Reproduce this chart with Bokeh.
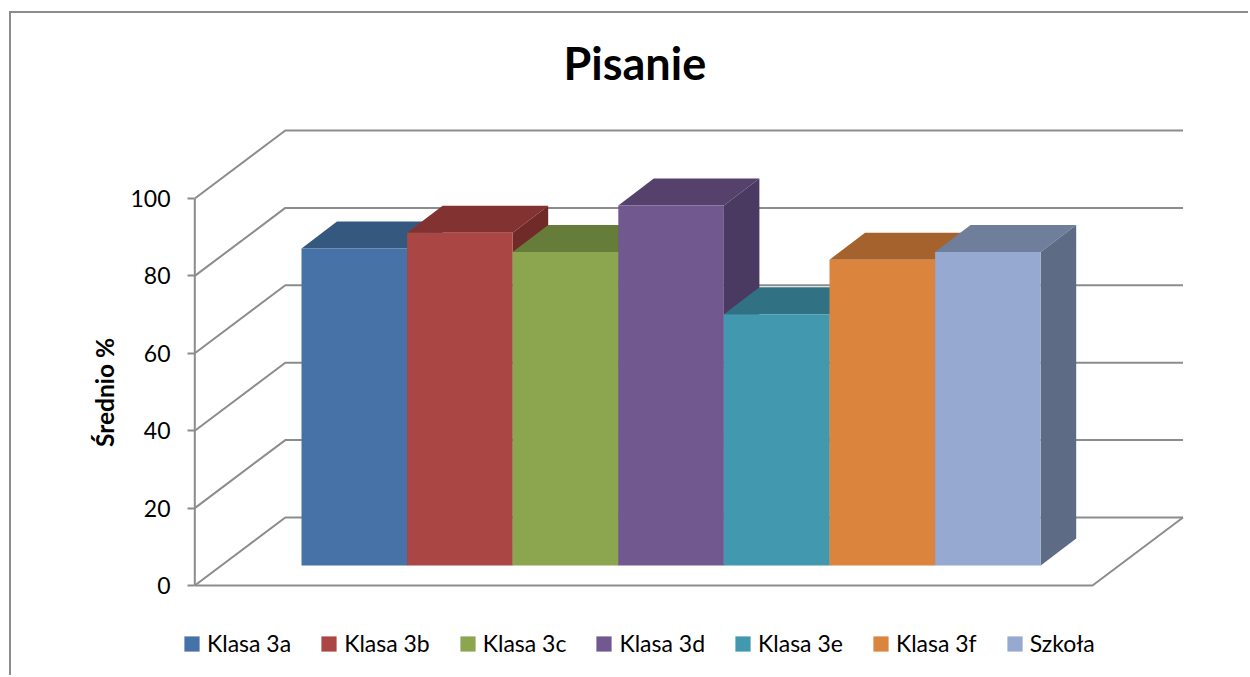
from bokeh.plotting import figure
from bokeh.embed import file_html
from bokeh.resources import INLINE
from bokeh.models import Range1d, FixedTicker, Legend, LegendItem, Title

classes = ["Klasa 3a", "Klasa 3b", "Klasa 3c", "Klasa 3d", "Klasa 3e", "Klasa 3f", "Szkoła"]
values = [81.9, 86.0, 81.0, 93.0, 64.9, 79.0, 81.0]
front_colors = ["#4672A8", "#AA4643", "#8BA64F", "#71588F", "#4198AF", "#DB843D", "#96A9D0"]
top_colors = ["#35587F", "#823331", "#667D3A", "#56416C", "#307284", "#A5622C", "#6F7F9B"]
side_colors = ["#2E4C6E", "#702B29", "#586C32", "#4A3960", "#29626F", "#8E5426", "#5D6B84"]
y_ticks = [0, 20, 40, 60, 80, 100]
title_text = "Pisanie"
y_label = "Średnio %"

FONT = "Lato"
GRID = "#8C8C8C"
OX, OY = 11, 13               # where the canvas starts on the page
W, H = 1250 - OX, 677 - OY
FRAME_L, FRAME_T = 184, 107   # frame corner on the page
PX_X, PX_Y = 105.6, 3.87      # pixels per bar / per percentage point
X0 = (194.3 - 301) / PX_X     # axis position, bar 0 starts at data x = 0
Y_BASE = (585 - 565) / PX_Y   # bars stand slightly behind the axis front edge
WALL_DX, WALL_DY = 90.5 / PX_X, 68 / PX_Y
BAR_DX, BAR_DY = 35.5 / PX_X, 27 / PX_Y
X_RIGHT = X0 + 897.7 / PX_X   # front right floor corner
X_END_WALL = X_RIGHT + WALL_DX

p = figure(
    width=W, height=H, output_backend="svg", toolbar_location=None, tools="",
    x_range=Range1d((FRAME_L - 301) / PX_X, (1250 - 301) / PX_X),
    y_range=Range1d((585 - 677) / PX_Y, (585 - FRAME_T) / PX_Y),
    x_axis_location=None, y_axis_location="left",
    min_border_left=FRAME_L - OX, min_border_right=0, min_border_top=FRAME_T - OY, min_border_bottom=0,
    background_fill_color="white", border_fill_color="white", outline_line_color=None,
    margin=(OY, 0, 0, OX), styles={"box-shadow": f"-2px -2px 0 0 {GRID}"},
)
p.grid.visible = False

# axis: its rule stands inside the frame, so the ticks reach in to it
ax = p.yaxis[0]
ax.ticker = FixedTicker(ticks=y_ticks)
ax.bounds = (y_ticks[0], y_ticks[-1])
ax.axis_line_color = None
ax.major_tick_line_color = GRID
ax.major_tick_line_width = 2
ax.major_tick_out = -3
ax.major_tick_in = 10
ax.minor_tick_line_color = None
ax.major_label_text_font = FONT
ax.major_label_text_font_size = "23px"
ax.major_label_text_color = "black"
ax.major_label_standoff = 14
ax.axis_label = y_label
ax.axis_label_text_font = FONT
ax.axis_label_text_font_size = "24.5px"
ax.axis_label_text_font_style = "bold"
ax.axis_label_text_color = "black"
ax.axis_label_standoff = 8

# title
p.title = Title(text=title_text, text_font=FONT, text_font_size="45px", text_font_style="bold",
                text_color="black", align="left", offset=379, standoff=36)

# walls
p.line([X0, X0], [y_ticks[0], y_ticks[-1]], line_color=GRID, line_width=2)
for v in y_ticks:
    p.line([X0, X0 + WALL_DX, X_END_WALL], [v, v + WALL_DY, v + WALL_DY], line_color=GRID, line_width=2)
p.line([X0, X_RIGHT, X_END_WALL], [0, 0, WALL_DY], line_color=GRID, line_width=2)

# bars, left to right so that each one overlaps its neighbour
items = []
for i, (name, v) in enumerate(zip(classes, values)):
    top = v + Y_BASE
    l, r = i, i + 1
    p.patch([l, r, r + BAR_DX, l + BAR_DX], [top, top, top + BAR_DY, top + BAR_DY],
            fill_color=top_colors[i], line_color=None)
    p.patch([r, r + BAR_DX, r + BAR_DX, r], [Y_BASE, Y_BASE + BAR_DY, top + BAR_DY, top],
            fill_color=side_colors[i], line_color=None)
    front = p.quad(left=l, right=r, bottom=Y_BASE, top=top, fill_color=front_colors[i], line_color=None)
    items.append(LegendItem(label=name, renderers=[front]))

legend = Legend(items=items, orientation="horizontal", location=(-2, 20),
                background_fill_alpha=0, border_line_color=None, padding=0, margin=0,
                glyph_width=19, glyph_height=19, label_standoff=6, spacing=28,
                label_text_font=FONT, label_text_font_size="23px", label_text_color="black")
p.add_layout(legend, "center")

open("out.html", "w").write(file_html(p, INLINE))
